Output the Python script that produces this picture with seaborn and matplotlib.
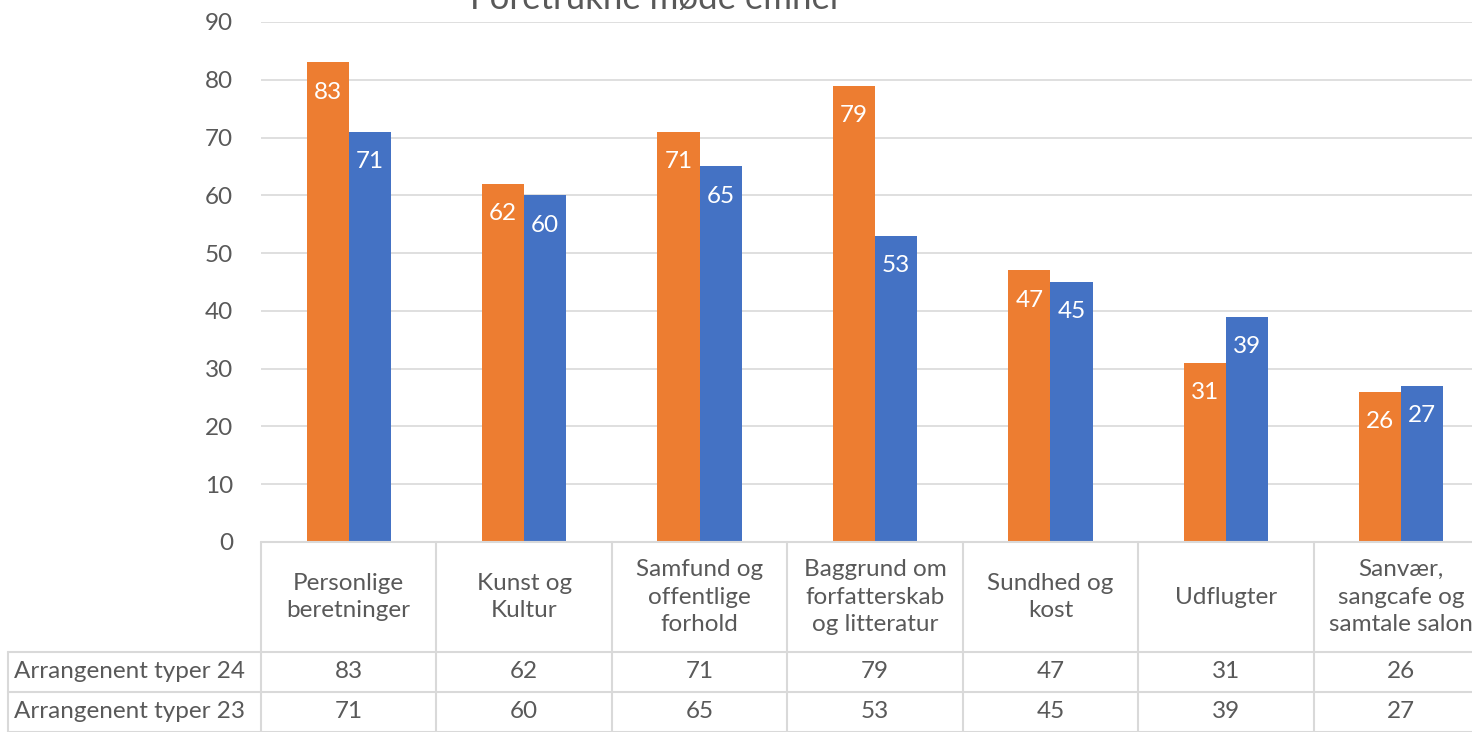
import pandas as pd
import seaborn as sns
import matplotlib.pyplot as plt

# data
emner = ['Personlige\nberetninger', 'Kunst og\nKultur', 'Samfund og\noffentlige\nforhold',
         'Baggrund om\nforfatterskab\nog litteratur', 'Sundhed og\nkost', 'Udflugter',
         'Sanvær,\nsangcafe og\nsamtale salon']
serier = ['Arrangenent typer 24', 'Arrangenent typer 23']
typer_24 = [83, 62, 71, 79, 47, 31, 26]
typer_23 = [71, 60, 65, 53, 45, 39, 27]
farver = ['#ED7D31', '#4472C4']
grå = '#595959'
linje = '#D9D9D9'

df = pd.DataFrame({
    'emne': emner * 2,
    'serie': [serier[0]] * len(emner) + [serier[1]] * len(emner),
    'antal': typer_24 + typer_23,
})

sns.set_style("white")
plt.rcParams['font.family'] = ['Lato', 'DejaVu Sans']
fs = 17.5

fig = plt.figure(figsize=(14.72, 7.32), dpi=100)
ax = fig.add_axes([261 / 1472, 1 - 542 / 732, 1228 / 1472, 520 / 732])

sns.barplot(data=df, x='emne', y='antal', hue='serie', hue_order=serier,
            palette=farver, width=0.48, gap=0, saturation=1, legend=False,
            linewidth=0, edgecolor='none', ax=ax)

for c in ax.containers:
    ax.bar_label(c, padding=-29, color='white', fontsize=fs)

ax.set_xlim(-0.5, len(emner) - 0.5)
ax.set_ylim(0, 90)
ax.set_yticks(range(0, 91, 10))
ax.yaxis.grid(True, color=linje, linewidth=1.2)
ax.set_axisbelow(True)
ax.tick_params(axis='y', colors=grå, labelsize=fs, length=0, pad=20)
ax.set_xticks([])
ax.set_xlabel('')
ax.set_ylabel('')
sns.despine(ax=ax, left=True, bottom=True, top=True, right=True)

# data table below the plot
n = len(emner)
y_head = -110 / 520
y_r1 = -150 / 520
y_r2 = -190 / 520
x_left = (8 - 261) / 1228
kw = dict(transform=ax.transAxes, clip_on=False, color=linje, linewidth=1.5)
ax.plot([0, 1], [0, 0], **kw)
ax.plot([x_left, 1], [y_head, y_head], **kw)
ax.plot([x_left, 1], [y_r1, y_r1], **kw)
ax.plot([x_left, 1], [y_r2, y_r2], **kw)
ax.plot([x_left, x_left], [y_head, y_r2], **kw)
for i in range(n + 1):
    ax.plot([i / n, i / n], [0, y_r2], **kw)

for i, navn in enumerate(emner):
    xc = (i + 0.5) / n
    ax.text(xc, y_head / 2, navn, transform=ax.transAxes, ha='center', va='center',
            fontsize=fs, color=grå, linespacing=1.4)
    ax.text(xc, (y_head + y_r1) / 2, str(typer_24[i]), transform=ax.transAxes,
            ha='center', va='center', fontsize=fs, color=grå)
    ax.text(xc, (y_r1 + y_r2) / 2, str(typer_23[i]), transform=ax.transAxes,
            ha='center', va='center', fontsize=fs, color=grå)

ax.text(x_left + 0.005, (y_head + y_r1) / 2, serier[0], transform=ax.transAxes,
        ha='left', va='center', fontsize=fs, color=grå)
ax.text(x_left + 0.005, (y_r1 + y_r2) / 2, serier[1], transform=ax.transAxes,
        ha='left', va='center', fontsize=fs, color=grå)

fig.text(656 / 1472, 1 - 9 / 732, 'Foretrukne møde emner', ha='center', va='baseline',
         fontsize=25, color=grå)

fig.savefig('out.png', dpi=100)
